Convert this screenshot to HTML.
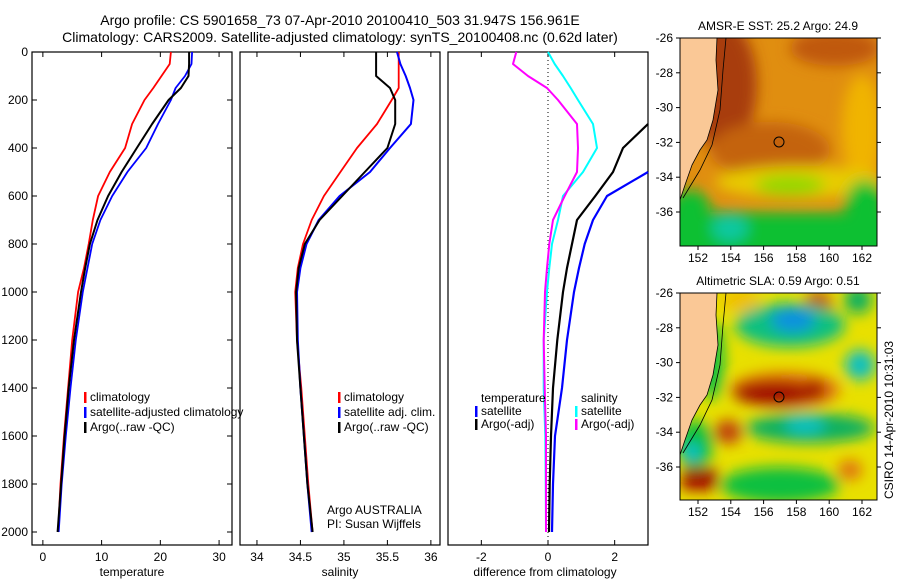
<!DOCTYPE html>
<html><head><meta charset="utf-8"><style>
body{margin:0;background:#fff}
svg text{font-family:"Liberation Sans",sans-serif;fill:#000}
</style></head><body>
<svg id="fig" width="900" height="580" viewBox="0 0 900 580" xmlns="http://www.w3.org/2000/svg">
<defs>
<filter id="blur" x="-20%" y="-20%" width="140%" height="140%"><feGaussianBlur stdDeviation="7"/></filter>
<clipPath id="clipSST"><rect x="680" y="38" width="197" height="208"/></clipPath>
<clipPath id="clipSLA"><rect x="680" y="293" width="197" height="207"/></clipPath>
</defs>
<text x="340" y="25" font-size="14" text-anchor="middle">Argo profile: CS 5901658_73 07-Apr-2010 20100410_503 31.947S 156.961E</text>
<text x="340" y="42" font-size="14" text-anchor="middle">Climatology: CARS2009. Satellite-adjusted climatology: synTS_20100408.nc (0.62d later)</text>
<g id="panels"></g>

<!-- SST map -->
<g>
<g clip-path="url(#clipSST)">
<rect x="680" y="38" width="197" height="208" fill="#e08e10"/>
<g filter="url(#blur)">
<ellipse cx="722" cy="85" rx="35" ry="65" fill="#a83c08"/>
<ellipse cx="835" cy="48" rx="45" ry="18" fill="#c05808"/>
<ellipse cx="770" cy="150" rx="60" ry="28" fill="#c46410"/>
<ellipse cx="862" cy="130" rx="20" ry="55" fill="#f0b400"/>
<ellipse cx="800" cy="182" rx="85" ry="16" fill="#e8cc00"/>
<ellipse cx="790" cy="185" rx="35" ry="10" fill="#90d800"/>
<rect x="660" y="212" width="240" height="50" fill="#10c030"/>
<ellipse cx="865" cy="205" rx="20" ry="25" fill="#10c030"/>
<ellipse cx="690" cy="205" rx="20" ry="15" fill="#10c030"/>
<ellipse cx="730" cy="228" rx="18" ry="14" fill="#10c8a0"/>
</g>
<polygon points="680,38 717,38 716,60 718,90 713,120 707,140 700,150 692,165 685,185 680,200" fill="#fac896"/>
<polyline points="717,38 716,60 718,90 713,120 707,140 700,150 692,165 685,185 680,200" fill="none" stroke="#000" stroke-width="0.8"/>
<polyline points="726,38 723,70 720,110 712,145 700,170 683,198" fill="none" stroke="#000" stroke-width="0.8"/>
</g>
<rect x="680" y="38" width="197" height="208" fill="none" stroke="#000"/>
<circle cx="779" cy="142" r="5" fill="none" stroke="#000"/>
<text x="778" y="30" font-size="12" text-anchor="middle">AMSR-E SST: 25.2 Argo: 24.9</text>
<g id="sstAxes"></g>
</g>

<!-- SLA map -->
<g>
<g clip-path="url(#clipSLA)">
<rect x="680" y="293" width="197" height="207" fill="#e8e000"/>
<g filter="url(#blur)">
<ellipse cx="740" cy="300" rx="20" ry="12" fill="#f0c000"/>
<ellipse cx="818" cy="305" rx="14" ry="14" fill="#c05010"/>
<ellipse cx="858" cy="300" rx="14" ry="14" fill="#10b060"/>
<ellipse cx="790" cy="325" rx="55" ry="22" fill="#10c080"/>
<ellipse cx="793" cy="320" rx="22" ry="12" fill="#1090e0"/>
<ellipse cx="860" cy="365" rx="15" ry="15" fill="#10c0c0"/>
<ellipse cx="785" cy="390" rx="55" ry="18" fill="#e07010"/>
<ellipse cx="775" cy="393" rx="42" ry="12" fill="#a00000"/>
<ellipse cx="815" cy="390" rx="10" ry="10" fill="#a00000"/>
<ellipse cx="810" cy="428" rx="65" ry="15" fill="#10b060"/>
<ellipse cx="805" cy="425" rx="20" ry="10" fill="#10c0c0"/>
<ellipse cx="728" cy="432" rx="14" ry="12" fill="#c04010"/>
<ellipse cx="695" cy="445" rx="18" ry="25" fill="#10c040"/>
<ellipse cx="692" cy="452" rx="8" ry="8" fill="#10c0e0"/>
<rect x="682" y="468" width="35" height="22" fill="#a00000"/>
<ellipse cx="780" cy="485" rx="60" ry="18" fill="#10c040"/>
<ellipse cx="850" cy="470" rx="12" ry="10" fill="#e07010"/>
<ellipse cx="712" cy="360" rx="12" ry="40" fill="#10c040"/>
</g>
<polygon points="680,293 717,293 716,315 718,345 713,375 707,395 700,405 692,420 685,440 680,455" fill="#fac896"/>
<polyline points="717,293 716,315 718,345 713,375 707,395 700,405 692,420 685,440 680,455" fill="none" stroke="#000" stroke-width="0.8"/>
<polyline points="726,293 723,325 720,365 712,400 700,425 683,453" fill="none" stroke="#000" stroke-width="0.8"/>
</g>
<rect x="680" y="293" width="197" height="207" fill="none" stroke="#000"/>
<circle cx="779" cy="397" r="5" fill="none" stroke="#000"/>
<text x="778" y="285" font-size="12" text-anchor="middle">Altimetric SLA: 0.59 Argo: 0.51</text>
<g id="slaAxes"></g>
</g>
<text transform="translate(893,420) rotate(-90)" font-size="12" text-anchor="middle">CSIRO 14-Apr-2010 10:31:03</text>
</svg>
<script>
const NS='http://www.w3.org/2000/svg';
// depth grid (dbar)
const depthT=[0,50,100,150,200,300,400,500,600,700,800,900,1000,1200,1400,1600,1800,2000];
const tempClim=[21.8,21.6,20.2,18.8,17.3,15.2,14.0,11.4,9.4,8.5,7.8,7.0,6.0,5.0,4.3,3.6,3.0,2.6];
const tempSat=[25.4,25.3,24.2,22.6,21.8,19.6,17.6,14.4,11.8,9.8,8.4,7.6,6.8,5.6,4.7,3.9,3.2,2.7];
const tempArgo=[24.9,24.9,24.8,23.5,21.4,18.6,16.0,13.4,11.1,9.3,8.0,7.2,6.5,5.3,4.4,3.7,3.1,2.5];
const salClim=[35.63,35.63,35.63,35.63,35.55,35.38,35.15,34.96,34.77,34.63,34.53,34.47,34.44,34.46,34.51,34.55,34.59,34.64];
const salSat=[35.61,35.65,35.71,35.76,35.80,35.77,35.53,35.30,34.95,34.71,34.57,34.50,34.46,34.47,34.50,34.54,34.58,34.63];
const salArgo=[35.37,35.37,35.37,35.53,35.59,35.59,35.50,35.24,34.98,34.72,34.55,34.48,34.45,34.46,34.50,34.54,34.58,34.64];
const dTempSat=[null,null,null,null,null,null,null,3.1,1.77,1.35,1.1,0.93,0.78,0.57,0.42,0.21,0.15,0.12];
const dTempArgo=[null,null,null,null,null,3.0,2.25,1.95,1.42,0.87,0.72,0.57,0.45,0.28,0.15,0.09,0.05,0.03];
const dSalSat=[0,0.2,0.45,0.68,0.9,1.35,1.47,1.05,0.45,0.3,0.12,0.04,-0.03,-0.13,-0.13,-0.08,-0.07,-0.06];
const dSalArgo=[-0.95,-1.05,-0.6,-0.03,0.3,0.87,0.9,0.87,0.5,0.15,0.04,-0.03,-0.09,-0.13,-0.1,-0.06,-0.06,-0.06];
const depthTicks=[0,200,400,600,800,1000,1200,1400,1600,1800,2000];
const tempTicks=[0,10,20,30];
const salTicks=[34,34.5,35,35.5,36];
const diffTicks=[-2,0,2];
const lonTicks=[152,154,156,158,160,162];
const latTicks=[-26,-28,-30,-32,-34,-36];

const yD=d=>52+d*0.24;
function el(tag,attrs,parent){const e=document.createElementNS(NS,tag);for(const k in attrs)e.setAttribute(k,attrs[k]);parent.appendChild(e);return e;}
const root=document.getElementById('panels');
const panels=[
 {name:'temperature',x0:32,x1:232,v0:-1.85,v1:32.2,ticks:tempTicks,label:'temperature',fmt:v=>v},
 {name:'salinity',x0:240,x1:440,v0:33.805,v1:36.105,ticks:salTicks,label:'salinity',fmt:v=>v},
 {name:'difference',x0:448,x1:648,v0:-3,v1:3,ticks:diffTicks,label:'difference from climatology',fmt:v=>v}
];
const Y0=52,Y1=545;
panels.forEach((p,i)=>{
 const g=el('g',{},root);
 
 
 p.x=v=>p.x0+(v-p.v0)/(p.v1-p.v0)*(p.x1-p.x0);
 const fr=el('rect',{x:p.x0,y:Y0,width:p.x1-p.x0,height:Y1-Y0,fill:'none',stroke:'#000','stroke-width':1.2},g);
 
 
 p.ticks.forEach(t=>{
  const x=p.x(t);
  el('line',{x1:x,x2:x,y1:Y1,y2:Y1-5,stroke:'#000'},g);
  el('line',{x1:x,x2:x,y1:Y0,y2:Y0+5,stroke:'#000'},g);
  const tx=el('text',{x:x,y:561,'font-size':12,'text-anchor':'middle'},g);
  tx.textContent=p.fmt(t);
  
  
 });
 const lb=el('text',{x:(p.x0+p.x1)/2+(i==2?-3:0),y:576,'font-size':12,'text-anchor':'middle'},g);
 lb.textContent=p.label;
 
 
 if(i==0){
  depthTicks.forEach(d=>{
   const y=yD(d);
   el('line',{x1:p.x0,x2:p.x0+5,y1:y,y2:y,stroke:'#000'},g);
   el('line',{x1:p.x1,x2:p.x1-5,y1:y,y2:y,stroke:'#000'},g);
   const tx=el('text',{x:28,y:y+4,'font-size':12,'text-anchor':'end'},g);
   tx.textContent=d;
   
   
  });
 }
});
function line(p,vals,color,w,name){
 let pts=[];
 vals.forEach((v,k)=>{if(v!==null)pts.push(Math.min(p.x1,p.x(v)).toFixed(1)+','+yD(depthT[k]).toFixed(1));});
 const pl=el('polyline',{points:pts.join(' '),fill:'none',stroke:color,'stroke-width':w,'stroke-linejoin':'round'},root);
 
 
}
const [pT,pS,pD]=panels;
line(pT,tempClim,'#f00',1.8,'temp-climatology-line');
line(pT,tempSat,'#00f',1.8,'temp-satellite-line');
line(pT,tempArgo,'#000',2,'temp-argo-line');
line(pS,salClim,'#f00',1.8,'sal-climatology-line');
line(pS,salSat,'#00f',2,'sal-satellite-line');
line(pS,salArgo,'#000',2,'sal-argo-line');
el('line',{x1:pD.x(0),x2:pD.x(0),y1:Y0,y2:Y1,stroke:'#000','stroke-dasharray':'1,3'},root);
line(pD,dTempSat,'#00f',2.2,'diff-temp-satellite-line');
line(pD,dTempArgo,'#000',2.2,'diff-temp-argo-line');
line(pD,dSalSat,'#0ff',2,'diff-sal-satellite-line');
line(pD,dSalArgo,'#f0f',2,'diff-sal-argo-line');
// legends
function legend(entries,x,name){
 const g=el('g',{},root);
 
 
 entries.forEach(([txt,col,y])=>{
  if(col) el('rect',{x:x-6,y:y-5,width:2.5,height:11,fill:col},g);
  const t=el('text',{x:x,y:y+4,'font-size':12},g);t.textContent=txt;
  
  
 });
}
legend([['climatology','#f00',397],['satellite-adjusted climatology','#00f',412],['Argo(..raw -QC)','#000',427]],90,'temperature-legend');
legend([['climatology','#f00',397],['satellite adj. clim.','#00f',412],['Argo(..raw -QC)','#000',427]],344,'salinity-legend');
legend([['Argo AUSTRALIA',null,510],['PI: Susan Wijffels',null,524]],327,'data-source-note');
legend([['temperature',null,398],['satellite','#00f',411],['Argo(-adj)','#000',424]],481,'temp-diff-legend');
legend([['salinity',null,398],['satellite','#0ff',411],['Argo(-adj)','#f0f',424]],581,'sal-diff-legend');
// map axes
function mapAxes(id,y0,y1){
 const g=document.getElementById(id);
 const lx=lon=>698+(lon-152)*16.4, ly=lat=>y0+(-26-lat)*17.4;
 lonTicks.forEach(l=>{const x=lx(l);
  el('line',{x1:x,x2:x,y1:y1,y2:y1+4,stroke:'#000'},g);
  const t=el('text',{x:x,y:y1+16,'font-size':12,'text-anchor':'middle'},g);t.textContent=l;
  
  });
 latTicks.forEach(l=>{const y=ly(l);
  el('line',{x1:676,x2:680,y1:y,y2:y,stroke:'#000'},g);
  el('line',{x1:877,x2:881,y1:y,y2:y,stroke:'#000'},g);
  const t=el('text',{x:673,y:y+4,'font-size':12,'text-anchor':'end'},g);t.textContent=l;
  
  });
}
mapAxes('sstAxes',38,246);
mapAxes('slaAxes',293,500);
</script>
</body></html>
